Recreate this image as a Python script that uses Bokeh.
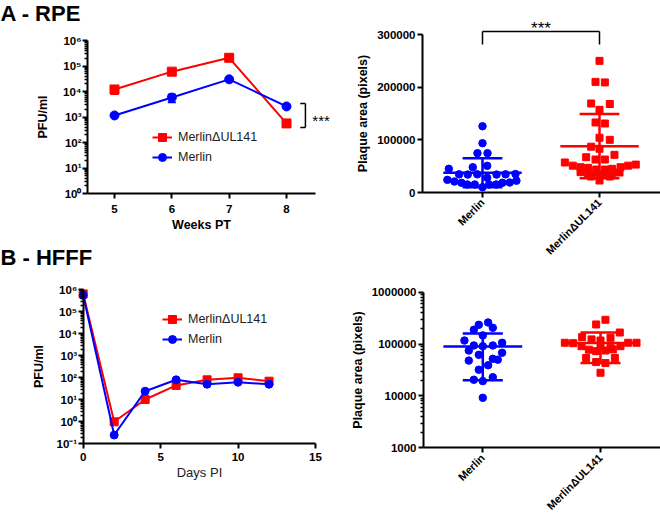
import math
from bokeh.plotting import figure
from bokeh.models import (Range1d, FixedTicker, Label, Legend, LegendItem,
                          ColumnDataSource, Whisker, TeeHead)
from bokeh.layouts import row, column
from bokeh.embed import file_html
from bokeh.resources import INLINE

FONT = "Liberation Sans"
RED = "#ff0000"
BLUE = "#0000ff"

# ---------------- data ----------------
series_labels = ["MerlinΔUL141", "Merlin"]
categories = ["Merlin", "MerlinΔUL141"]
category_pos = [1, 2]

# A - RPE growth curve
rpe_weeks = [5, 6, 7, 8]
rpe_week_ticks = [5, 6, 7, 8]
rpe_ul141_pfu = [12000, 60000, 210000, 560]
rpe_ul141_err_lo = [8000, 60000, 210000, 560]
rpe_ul141_err_hi = [16000, 60000, 210000, 560]
rpe_merlin_pfu = [1150, 5800, 30000, 2600]
rpe_merlin_err_lo = [1150, 3800, 30000, 2600]
rpe_merlin_err_hi = [1150, 7600, 30000, 2600]

# B - HFFF growth curve
hfff_days = [0, 2, 4, 6, 8, 10, 12]
hfff_day_ticks = [0, 5, 10, 15]
hfff_ul141_pfu = [650000, 1.0, 10.3, 45, 81, 100, 70]
hfff_merlin_pfu = [560000, 0.25, 24.6, 81, 51, 63, 51]

pfu_ticks = [0.1, 1, 10, 100, 1e3, 1e4, 1e5, 1e6]
pfu_tick_labels = ["10⁻¹", "10⁰", "10¹", "10²", "10³", "10⁴", "10⁵", "10⁶"]

# A - RPE plaque areas
rpe_merlin_area = [125800, 93600, 74600, 74600, 48000, 50600, 45000,
                   34500, 34000, 34500, 34000, 34500, 35000, 28000,
                   24000, 20900, 18400, 15200, 15200, 10000, 15200, 15200,
                   18400, 18900, 22400]
rpe_merlin_jitter = [0, 0, -0.043, 0.043, -0.083, 0.04, -0.288,
                     -0.2, -0.126, -0.045, 0.12, 0.197, 0.282, 0.04,
                     -0.30, -0.24, -0.18, -0.13, -0.066, 0, 0.057, 0.117,
                     0.17, 0.233, 0.29]
rpe_ul141_area = [250000, 210000, 209000, 169000, 168000, 157000, 133000,
                  131000, 104000, 100000, 87000, 83000, 71500, 67000,
                  62600, 62600, 57000, 51000, 53000, 51000,
                  48000, 46900, 43600, 43600, 45000, 48000,
                  38600, 35400, 38000, 36700, 36700, 38000,
                  30400, 32900, 30400, 22800]
rpe_ul141_jitter = [0, -0.034, 0.046, -0.071, 0.088, 0, -0.034,
                    0.046, 0, 0.088, -0.071, 0, 0.128, -0.114,
                    -0.034, 0.046, -0.296, -0.228, 0.31, 0.245,
                    -0.162, -0.097, -0.028, 0.046, 0.108, 0.18,
                    -0.162, -0.097, -0.028, 0.046, 0.108, 0.171,
                    -0.071, 0, 0.088, 0]
rpe_area_mean = [37500, 88000]
rpe_area_sd = [27500, 61000]
rpe_area_ticks = [0, 100000, 200000, 300000]
rpe_area_tick_labels = ["0", "100000", "200000", "300000"]

# B - HFFF plaque areas
hfff_merlin_area = [261000, 235000, 206000, 189000, 147000, 117000, 106000,
                    94000, 91000, 94000, 75000, 68000, 62000, 52000, 50000,
                    48000, 39000, 32000, 20500, 19300, 23000, 9200]
hfff_merlin_jitter = [0.045, -0.034, 0.085, -0.076, 0, -0.156, 0.164,
                      -0.076, 0, 0.085, -0.119, 0.164, -0.034, 0.085, 0.127,
                      -0.119, 0.045, -0.034, -0.076, 0, 0.085, 0]
hfff_ul141_area = [294000, 239000, 167000, 136000, 123000, 117000, 132000,
                   106000, 104000, 106000, 106000, 91000, 92000, 85000, 91000,
                   78000, 73000, 75000, 79000, 54000, 54000, 45000, 43000, 28000]
hfff_ul141_jitter = [0.042, -0.037, 0.164, -0.156, -0.076, 0, 0.085,
                     -0.303, -0.232, 0.235, 0.306, -0.161, 0, 0.085, 0.17,
                     -0.099, -0.037, 0.042, 0.105, -0.122, 0.122, -0.037, 0.042, 0]
hfff_area_mean = [90000, 105000]
hfff_area_sd = [70000, 62000]
hfff_area_ticks = [1000, 10000, 100000, 1000000]
hfff_area_tick_labels = ["1000", "10000", "100000", "1000000"]

# significance annotations
rpe_growth_sig = dict(x=8.33, tick=0.09, lo=390, hi=3400, text_x=8.45, text_y=700)
rpe_area_sig = dict(top=305700, leg=281000, text_y=311000)

MEAN_HALF = 0.335
CAP_HALF = 0.17


# ---------------- helpers ----------------
def pix_map(v_a, p_a, v_b, p_b, log=False):
    """map a pixel position inside a figure to a data value (layout calibration)"""
    ta, tb = (math.log10(v_a), math.log10(v_b)) if log else (v_a, v_b)
    k = (tb - ta) / (p_b - p_a)

    def f(p):
        t = ta + (p - p_a) * k
        return 10 ** t if log else t
    return f


def log_minor(lo_exp, hi_exp):
    return [m * 10 ** k for k in range(lo_exp, hi_exp) for m in range(2, 10)]


def make_fig(w, h, xmap, ymap, ylog=False):
    p = figure(width=w, height=h,
               x_range=Range1d(xmap(0), xmap(w)),
               y_range=Range1d(ymap(h), ymap(0)),
               y_axis_type="log" if ylog else "linear",
               output_backend="svg", toolbar_location=None, min_border=0)
    p.grid.visible = False
    p.outline_line_color = None
    p.background_fill_color = "white"
    p.border_fill_color = "white"
    for ax in p.axis:
        ax.axis_line_width = 2
        ax.axis_line_color = "black"
        ax.major_tick_line_width = 2
        ax.major_tick_line_color = "black"
        ax.major_tick_out = 5
        ax.major_tick_in = 0
        ax.minor_tick_line_width = 1.5
        ax.minor_tick_line_color = "black"
        ax.minor_tick_out = 3
        ax.minor_tick_in = 0
        ax.major_label_text_font = FONT
        ax.major_label_text_font_style = "bold"
        ax.major_label_text_font_size = "11.5px"
        ax.major_label_text_color = "black"
        ax.axis_label_text_font = FONT
        ax.axis_label_text_color = "black"
        ax.axis_label_text_font_style = "bold"
        ax.axis_label_text_font_size = "12.5px"
    return p


def place_axes(p, x_axis_y, y_axis_x, xbounds, ybounds):
    p.xaxis.fixed_location = x_axis_y
    p.yaxis.fixed_location = y_axis_x
    p.xaxis.bounds = xbounds
    p.yaxis.bounds = ybounds


def growth_legend(p, items, loc, standoff):
    leg = Legend(items=items, location=loc, padding=0, margin=0,
                 border_line_color=None, background_fill_alpha=0,
                 glyph_width=20, glyph_height=20, label_height=20,
                 spacing=-2, label_standoff=standoff,
                 label_text_font=FONT, label_text_font_size="12.5px",
                 label_text_color="#222222")
    p.add_layout(leg)


def panel_title(p, text, xmap, ymap, px, py):
    p.add_layout(Label(x=xmap(px), y=ymap(py), text=text,
                       text_font=FONT, text_font_style="bold", text_font_size="22px",
                       text_baseline="middle", text_color="black"))


# ---------------- A - RPE growth (figure at 0,0 size 330x244) ----------------
WA, HA = 330, 244
xA = pix_map(5, 114, 8, 286)
yA = pix_map(1e6, 40, 1, 193, log=True)
pA = make_fig(WA, HA, xA, yA, ylog=True)
place_axes(pA, 1, xA(87), (xA(87), xA(315)), (1, 1e6))
pA.xaxis.ticker = FixedTicker(ticks=rpe_week_ticks, minor_ticks=[])
pA.xaxis.axis_label = "Weeks PT"
pA.xaxis.major_label_standoff = 6
pA.xaxis.axis_label_standoff = 2
pA.yaxis.ticker = FixedTicker(ticks=pfu_ticks[1:], minor_ticks=log_minor(0, 6))
pA.yaxis.major_label_overrides = {t: l for t, l in zip(pfu_ticks, pfu_tick_labels)}
pA.yaxis.axis_label = "PFU/ml"
pA.yaxis.major_label_standoff = 1
pA.yaxis.axis_label_standoff = 10

for xs, lo, hi, col in [(rpe_weeks, rpe_ul141_err_lo, rpe_ul141_err_hi, RED),
                        (rpe_weeks, rpe_merlin_err_lo, rpe_merlin_err_hi, BLUE)]:
    keep = [i for i in range(len(xs)) if lo[i] < hi[i]]
    src = ColumnDataSource(dict(x=[xs[i] for i in keep], lo=[lo[i] for i in keep],
                                hi=[hi[i] for i in keep]))
    pA.add_layout(Whisker(base="x", lower="lo", upper="hi", source=src,
                          line_color=col, line_width=2,
                          upper_head=TeeHead(size=8, line_color=col, line_width=2),
                          lower_head=TeeHead(size=8, line_color=col, line_width=2)))

rl = pA.line(rpe_weeks, rpe_ul141_pfu, line_color=RED, line_width=2)
rs = pA.scatter(rpe_weeks, rpe_ul141_pfu, marker="square", size=9, color=RED)
bl = pA.line(rpe_weeks, rpe_merlin_pfu, line_color=BLUE, line_width=2)
bs = pA.scatter(rpe_weeks, rpe_merlin_pfu, marker="circle", size=9, color=BLUE)
growth_legend(pA, [LegendItem(label=series_labels[0], renderers=[rl, rs]),
                   LegendItem(label=series_labels[1], renderers=[bl, bs])], (152, 77), 6)

g = rpe_growth_sig
pA.segment(x0=[g["x"] - g["tick"], g["x"], g["x"] - g["tick"]],
           y0=[g["hi"], g["hi"], g["lo"]],
           x1=[g["x"], g["x"], g["x"]],
           y1=[g["hi"], g["lo"], g["lo"]], line_color="black", line_width=1.5)
pA.add_layout(Label(x=g["text_x"], y=g["text_y"], text="***", text_font=FONT,
                    text_font_size="15px", text_baseline="middle", text_color="black"))
panel_title(pA, "A - RPE", xA, yA, 0, 13)

# ---------------- B - HFFF growth (figure at 0,244 size 330x272) ----------------
WB, HB = 330, 272
xB = pix_map(0, 82.7, 15, 315)
yB = pix_map(1e6, 45.3, 0.1, 199.3, log=True)
pB = make_fig(WB, HB, xB, yB, ylog=True)
place_axes(pB, 0.1, 0, (0, 15), (0.1, 1e6))
pB.xaxis.ticker = FixedTicker(ticks=hfff_day_ticks, minor_ticks=[])
pB.xaxis.axis_label = "Days PI"
pB.xaxis.axis_label_text_font_style = "normal"
pB.xaxis.axis_label_text_font_size = "13px"
pB.xaxis.axis_label_text_color = "#222222"
pB.xaxis.major_label_standoff = 4
pB.xaxis.axis_label_standoff = 1
pB.yaxis.ticker = FixedTicker(ticks=pfu_ticks, minor_ticks=log_minor(-1, 6))
pB.yaxis.major_label_overrides = {t: l for t, l in zip(pfu_ticks, pfu_tick_labels)}
pB.yaxis.axis_label = "PFU/ml"
pB.yaxis.major_label_standoff = 1
pB.yaxis.axis_label_standoff = 8

rl2 = pB.line(hfff_days, hfff_ul141_pfu, line_color=RED, line_width=2)
rs2 = pB.scatter(hfff_days, hfff_ul141_pfu, marker="square", size=8, color=RED)
bl2 = pB.line(hfff_days, hfff_merlin_pfu, line_color=BLUE, line_width=2)
bs2 = pB.scatter(hfff_days, hfff_merlin_pfu, marker="circle", size=8, color=BLUE)
growth_legend(pB, [LegendItem(label=series_labels[0], renderers=[rl2, rs2]),
                   LegendItem(label=series_labels[1], renderers=[bl2, bs2])], (162, 167), 6)
panel_title(pB, "B - HFFF", xB, yB, 0, 13)


# ---------------- scatter panels ----------------
def dot_panel(p, groups, means, sds):
    for cx, (vals, jit, marker, size, col), m, s in zip(category_pos, groups, means, sds):
        p.scatter([cx + j for j in jit], vals, marker=marker, size=size, color=col)
        p.segment(x0=[cx - MEAN_HALF, cx - CAP_HALF, cx - CAP_HALF, cx],
                  x1=[cx + MEAN_HALF, cx + CAP_HALF, cx + CAP_HALF, cx],
                  y0=[m, m + s, m - s, m - s], y1=[m, m + s, m - s, m + s],
                  line_color=col, line_width=2.5)
    p.xaxis.ticker = FixedTicker(ticks=category_pos, minor_ticks=[])
    p.xaxis.major_label_overrides = {c: t for c, t in zip(category_pos, categories)}
    p.xaxis.major_label_orientation = math.pi / 4
    p.xaxis.major_label_standoff = 3
    p.xaxis.major_label_text_font_size = "11px"
    p.yaxis.axis_label = "Plaque area (pixels)"
    p.yaxis.major_label_standoff = 2
    p.yaxis.axis_label_standoff = 4


# A - RPE plaque areas (figure at 330,0 size 330x268)
WC, HC = 330, 268
xC = pix_map(1, 152, 2, 269)
yC = pix_map(0, 192, 300000, 34)
pC = make_fig(WC, HC, xC, yC)
place_axes(pC, 0, xC(92), (xC(92), xC(WC)), (0, 300000))
dot_panel(pC, [(rpe_merlin_area, rpe_merlin_jitter, "circle", 7.5, BLUE),
               (rpe_ul141_area, rpe_ul141_jitter, "square", 7, RED)],
          rpe_area_mean, rpe_area_sd)
pC.yaxis.ticker = FixedTicker(ticks=rpe_area_ticks, minor_ticks=[])
pC.yaxis.major_label_overrides = {t: l for t, l in zip(rpe_area_ticks, rpe_area_tick_labels)}
s = rpe_area_sig
pC.segment(x0=[category_pos[0], category_pos[0], category_pos[1]],
           y0=[s["leg"], s["top"], s["top"]],
           x1=[category_pos[0], category_pos[1], category_pos[1]],
           y1=[s["top"], s["top"], s["leg"]], line_color="black", line_width=1.5)
pC.add_layout(Label(x=sum(category_pos) / 2, y=s["text_y"], text="***", text_font=FONT,
                    text_font_size="17px", text_align="center", text_baseline="alphabetic",
                    text_color="black"))

# B - HFFF plaque areas (figure at 330,268 size 330x248)
WD, HD = 330, 248
xD = pix_map(1, 152.3, 2, 270)
yD = pix_map(1e6, 23.7, 1000, 179.3, log=True)
pD = make_fig(WD, HD, xD, yD, ylog=True)
place_axes(pD, 1000, xD(93), (xD(93), xD(WD)), (1000, 1e6))
dot_panel(pD, [(hfff_merlin_area, hfff_merlin_jitter, "circle", 7.5, BLUE),
               (hfff_ul141_area, hfff_ul141_jitter, "square", 7, RED)],
          hfff_area_mean, hfff_area_sd)
pD.yaxis.ticker = FixedTicker(ticks=hfff_area_ticks, minor_ticks=log_minor(3, 6))
pD.yaxis.major_label_overrides = {t: l for t, l in zip(hfff_area_ticks, hfff_area_tick_labels)}

layout = row(column(pA, pB), column(pC, pD))
open("out.html", "w").write(file_html(layout, INLINE))
